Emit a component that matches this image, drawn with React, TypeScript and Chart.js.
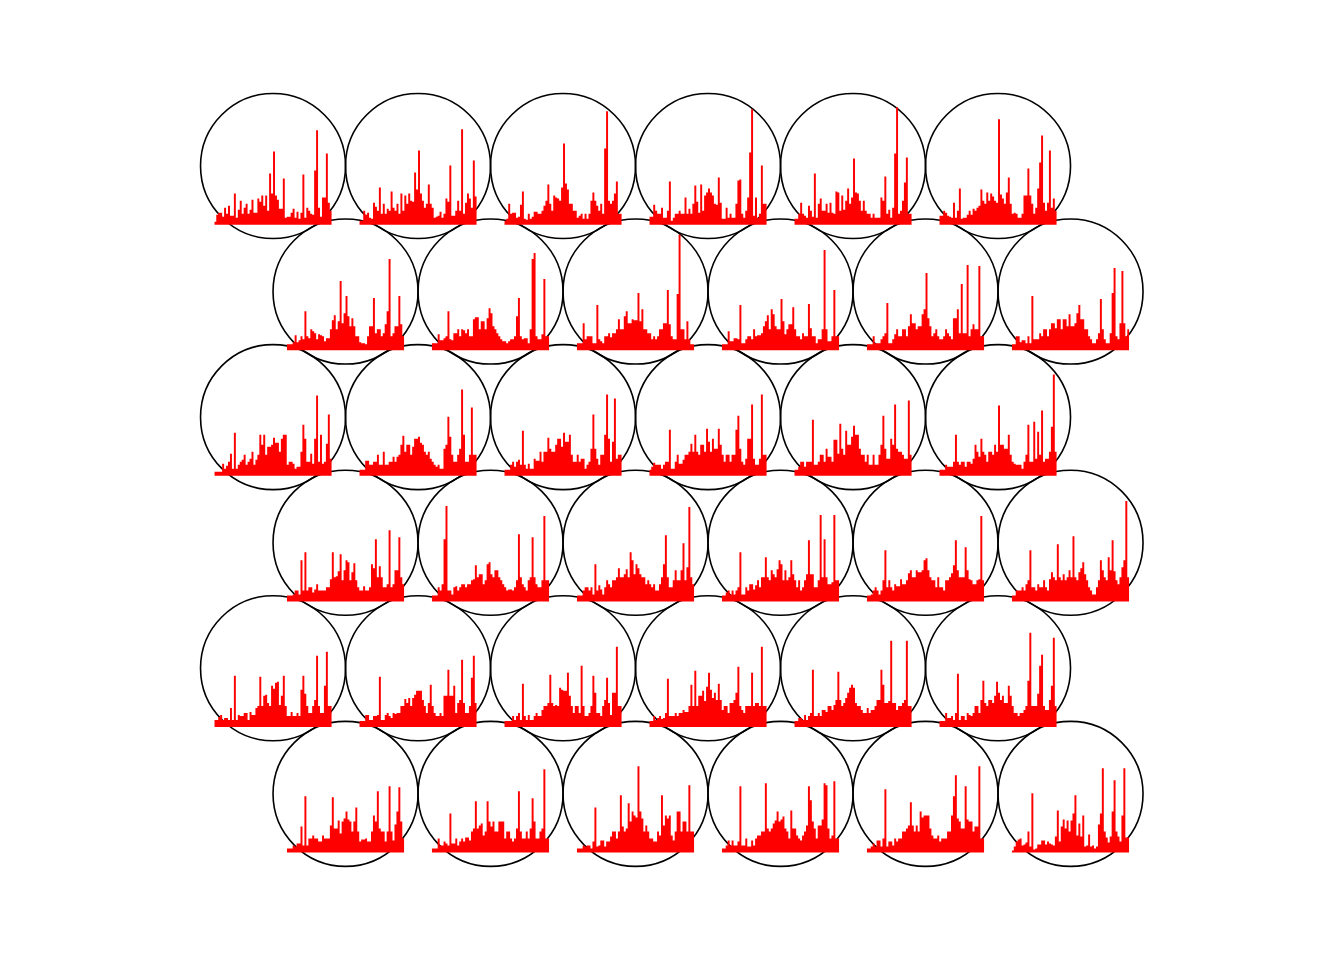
import { useEffect, useRef } from 'react';
import { Chart, registerables } from 'chart.js';

Chart.register(...registerables);

// codebook vectors of the 6x6 hexagonal map, 60 variables per unit,
// one array per map row (top row first), values on a 0..117 scale
const row1: number[][] = [
  [3, 10, 12, 12, 8, 17, 11, 19, 9, 9, 31, 7, 15, 24, 11, 17, 21, 11, 15, 25, 12, 12, 26, 23, 29, 19, 29, 14, 51, 31, 73, 29, 25, 16, 16, 46, 7, 8, 8, 12, 16, 7, 13, 6, 12, 50, 7, 17, 14, 11, 10, 54, 94, 17, 8, 27, 27, 71, 22, 14],
  [4, 4, 14, 10, 12, 7, 6, 22, 18, 14, 37, 11, 21, 11, 16, 14, 33, 17, 14, 21, 11, 31, 14, 29, 21, 31, 24, 23, 52, 35, 74, 31, 24, 17, 21, 40, 21, 17, 7, 8, 9, 13, 7, 11, 26, 23, 59, 9, 9, 14, 24, 14, 95, 11, 22, 31, 26, 17, 64, 28],
  [4, 6, 21, 11, 12, 12, 7, 8, 20, 33, 6, 5, 11, 6, 8, 13, 13, 11, 11, 14, 19, 24, 40, 21, 14, 29, 27, 26, 24, 37, 81, 41, 35, 21, 21, 14, 14, 7, 9, 11, 6, 11, 6, 11, 24, 32, 24, 19, 14, 21, 11, 76, 113, 24, 21, 24, 31, 43, 11, 11],
  [8, 8, 20, 14, 11, 11, 17, 7, 7, 14, 43, 4, 7, 11, 11, 14, 11, 11, 27, 11, 16, 11, 21, 39, 23, 12, 40, 14, 29, 32, 36, 32, 29, 21, 20, 47, 22, 6, 6, 17, 7, 11, 7, 7, 21, 44, 45, 11, 7, 14, 27, 72, 115, 9, 27, 7, 11, 59, 21, 21],
  [6, 6, 11, 22, 11, 9, 7, 19, 14, 8, 51, 7, 21, 26, 14, 14, 21, 12, 22, 12, 11, 33, 32, 14, 29, 15, 24, 36, 21, 27, 66, 32, 31, 24, 14, 24, 14, 11, 11, 7, 11, 7, 7, 7, 27, 24, 48, 11, 15, 7, 17, 71, 117, 11, 14, 24, 42, 67, 11, 11],
  [9, 9, 14, 12, 9, 8, 7, 22, 7, 14, 36, 6, 7, 7, 10, 14, 10, 16, 14, 17, 19, 35, 24, 21, 32, 24, 31, 28, 24, 22, 105, 30, 26, 21, 32, 47, 21, 11, 12, 11, 7, 7, 11, 29, 29, 56, 29, 21, 11, 17, 36, 62, 89, 22, 14, 22, 74, 17, 26, 14],
];

const row2: number[][] = [
  [6, 6, 6, 8, 15, 8, 10, 14, 11, 39, 14, 12, 21, 19, 17, 11, 16, 15, 14, 9, 12, 12, 21, 30, 35, 21, 29, 69, 27, 37, 54, 34, 24, 32, 24, 14, 14, 8, 7, 7, 6, 14, 24, 24, 52, 17, 21, 21, 14, 17, 26, 39, 91, 14, 17, 24, 24, 54, 26, 14],
  [7, 7, 7, 16, 10, 10, 12, 14, 39, 11, 10, 17, 17, 21, 14, 21, 20, 17, 21, 14, 14, 31, 33, 33, 21, 29, 29, 21, 32, 42, 37, 24, 21, 17, 14, 11, 9, 9, 7, 9, 11, 11, 14, 34, 52, 14, 11, 12, 12, 7, 21, 91, 97, 14, 11, 11, 16, 71, 14, 14],
  [7, 7, 7, 27, 11, 14, 14, 14, 7, 7, 45, 11, 9, 7, 14, 14, 17, 13, 17, 17, 21, 31, 21, 21, 34, 39, 27, 27, 31, 30, 30, 57, 29, 41, 21, 21, 17, 17, 11, 14, 11, 14, 21, 21, 27, 27, 60, 26, 14, 11, 11, 56, 115, 21, 21, 11, 29, 11, 6, 6],
  [6, 6, 6, 19, 9, 9, 12, 12, 11, 45, 7, 7, 11, 14, 14, 11, 21, 14, 15, 15, 17, 24, 29, 35, 21, 41, 36, 24, 21, 21, 51, 29, 16, 21, 26, 26, 43, 21, 14, 14, 11, 17, 14, 14, 46, 22, 14, 14, 7, 11, 11, 21, 100, 21, 9, 9, 14, 60, 14, 14],
  [6, 6, 6, 14, 7, 7, 7, 11, 14, 17, 47, 7, 7, 11, 16, 21, 14, 14, 21, 21, 14, 24, 36, 27, 27, 21, 24, 24, 36, 41, 77, 32, 24, 14, 17, 21, 14, 11, 11, 14, 21, 17, 14, 11, 32, 32, 41, 17, 66, 17, 17, 85, 14, 21, 26, 21, 21, 84, 14, 14],
  [6, 6, 14, 14, 8, 10, 10, 7, 14, 7, 54, 11, 11, 11, 17, 14, 21, 21, 14, 21, 27, 27, 22, 31, 31, 21, 31, 31, 24, 36, 24, 24, 27, 37, 45, 31, 31, 21, 21, 14, 11, 7, 7, 11, 17, 51, 21, 11, 7, 7, 17, 57, 82, 14, 11, 27, 79, 27, 14, 21],
];

const row3: number[][] = [
  [4, 4, 4, 4, 12, 7, 10, 14, 22, 7, 43, 7, 11, 14, 16, 21, 11, 14, 17, 24, 11, 16, 21, 41, 31, 41, 21, 29, 29, 31, 38, 33, 33, 24, 37, 41, 41, 11, 14, 14, 12, 7, 9, 9, 24, 51, 37, 14, 14, 22, 12, 37, 80, 14, 41, 12, 14, 32, 61, 17],
  [6, 6, 6, 15, 15, 11, 11, 14, 14, 21, 11, 11, 24, 11, 11, 14, 14, 19, 14, 19, 21, 31, 40, 24, 31, 31, 21, 29, 37, 37, 39, 33, 31, 24, 21, 24, 17, 14, 11, 9, 11, 7, 7, 27, 31, 59, 39, 21, 14, 14, 21, 27, 86, 41, 14, 14, 21, 68, 21, 21],
  [6, 6, 6, 11, 14, 9, 14, 16, 11, 45, 11, 7, 12, 7, 7, 17, 15, 15, 24, 14, 24, 24, 38, 27, 24, 24, 31, 37, 37, 29, 43, 34, 34, 41, 21, 14, 14, 21, 14, 17, 17, 7, 11, 14, 27, 61, 27, 17, 11, 21, 21, 41, 81, 37, 14, 34, 77, 17, 21, 21],
  [6, 9, 13, 11, 11, 11, 7, 11, 14, 14, 46, 7, 7, 14, 21, 12, 12, 16, 21, 21, 24, 32, 24, 41, 24, 21, 31, 31, 24, 47, 34, 24, 37, 27, 27, 47, 31, 21, 14, 21, 21, 14, 21, 21, 46, 60, 27, 14, 11, 17, 37, 37, 71, 17, 11, 11, 17, 81, 21, 21],
  [6, 6, 9, 14, 14, 9, 14, 14, 14, 56, 11, 11, 14, 21, 21, 14, 27, 19, 19, 14, 36, 36, 22, 52, 27, 21, 45, 31, 31, 39, 50, 41, 41, 27, 21, 21, 14, 21, 11, 11, 21, 11, 11, 21, 31, 60, 27, 17, 17, 37, 31, 71, 27, 24, 24, 21, 17, 17, 75, 21],
  [6, 6, 6, 11, 9, 9, 9, 14, 41, 14, 11, 14, 14, 9, 14, 14, 12, 17, 31, 24, 19, 37, 24, 21, 14, 24, 24, 21, 31, 24, 70, 31, 31, 27, 27, 41, 21, 14, 12, 11, 11, 11, 7, 14, 21, 51, 14, 14, 54, 17, 44, 21, 65, 14, 17, 17, 24, 49, 101, 24],
];

const row4: number[][] = [
  [6, 6, 6, 7, 11, 11, 7, 41, 11, 49, 11, 14, 14, 9, 12, 17, 11, 11, 11, 11, 14, 14, 22, 49, 24, 25, 30, 47, 21, 31, 41, 39, 21, 29, 38, 21, 14, 11, 11, 15, 11, 11, 14, 37, 33, 62, 24, 35, 24, 14, 14, 17, 71, 14, 17, 31, 31, 64, 24, 17],
  [6, 6, 6, 14, 11, 17, 62, 95, 11, 11, 7, 14, 15, 11, 14, 17, 17, 14, 17, 17, 21, 22, 36, 24, 27, 27, 17, 21, 37, 39, 27, 24, 31, 31, 24, 21, 17, 14, 11, 12, 12, 11, 14, 21, 67, 24, 17, 14, 11, 21, 24, 64, 24, 17, 14, 14, 21, 85, 21, 21],
  [6, 6, 6, 11, 14, 14, 11, 14, 7, 37, 11, 16, 12, 7, 14, 21, 17, 14, 21, 21, 24, 33, 24, 24, 27, 32, 24, 49, 41, 27, 37, 33, 27, 24, 24, 17, 21, 17, 14, 17, 11, 11, 17, 24, 37, 66, 24, 14, 14, 21, 31, 21, 21, 31, 58, 21, 34, 94, 24, 17],
  [6, 6, 9, 11, 7, 11, 7, 11, 14, 49, 7, 7, 14, 11, 17, 17, 12, 16, 21, 14, 24, 24, 44, 24, 21, 31, 27, 24, 32, 41, 37, 21, 31, 21, 24, 41, 27, 21, 14, 21, 11, 14, 21, 27, 61, 27, 27, 14, 14, 21, 86, 24, 62, 24, 17, 17, 19, 86, 21, 21],
  [6, 6, 7, 11, 14, 11, 7, 11, 21, 51, 14, 21, 14, 11, 17, 15, 15, 22, 17, 17, 21, 28, 31, 24, 24, 31, 29, 29, 31, 41, 43, 31, 24, 21, 21, 14, 24, 14, 14, 11, 21, 21, 24, 28, 36, 61, 31, 24, 24, 24, 54, 31, 22, 21, 17, 17, 21, 22, 85, 21],
  [6, 6, 11, 11, 11, 14, 11, 17, 21, 51, 14, 14, 11, 17, 14, 14, 21, 14, 11, 22, 29, 24, 21, 57, 24, 21, 27, 21, 24, 31, 24, 65, 24, 21, 29, 33, 39, 27, 21, 14, 11, 7, 7, 14, 21, 41, 31, 24, 21, 44, 31, 61, 30, 21, 17, 24, 34, 41, 100, 24],
];

const row5: number[][] = [
  [7, 7, 10, 12, 7, 9, 9, 7, 19, 7, 51, 7, 12, 11, 11, 14, 14, 7, 15, 12, 12, 19, 21, 50, 21, 31, 32, 24, 21, 41, 38, 44, 45, 22, 31, 51, 21, 11, 11, 15, 11, 11, 14, 11, 37, 51, 33, 21, 14, 14, 21, 27, 71, 21, 14, 14, 41, 75, 21, 21],
  [6, 6, 6, 12, 12, 7, 7, 11, 11, 12, 50, 7, 7, 12, 14, 11, 9, 14, 13, 14, 14, 21, 21, 28, 24, 29, 21, 29, 32, 36, 36, 36, 27, 21, 14, 24, 42, 21, 14, 11, 11, 14, 11, 31, 31, 57, 31, 31, 41, 14, 24, 27, 67, 24, 14, 14, 21, 49, 71, 24],
  [6, 6, 6, 6, 11, 7, 11, 14, 7, 43, 11, 7, 12, 7, 7, 11, 14, 11, 11, 17, 21, 21, 24, 52, 24, 21, 22, 21, 39, 37, 36, 36, 54, 31, 21, 14, 21, 21, 14, 61, 21, 11, 11, 14, 21, 51, 34, 14, 14, 11, 21, 27, 49, 24, 12, 34, 34, 80, 21, 21],
  [6, 6, 11, 7, 9, 11, 8, 9, 14, 48, 11, 11, 11, 14, 11, 14, 14, 17, 15, 15, 21, 42, 21, 56, 21, 31, 31, 36, 26, 40, 54, 37, 29, 34, 27, 43, 27, 17, 21, 21, 14, 24, 24, 27, 34, 60, 21, 17, 14, 21, 21, 21, 54, 21, 24, 24, 21, 80, 21, 21],
  [6, 6, 9, 9, 7, 12, 7, 11, 14, 57, 11, 11, 14, 11, 17, 17, 15, 21, 21, 17, 22, 27, 55, 27, 21, 24, 29, 34, 39, 42, 39, 24, 21, 21, 17, 14, 14, 19, 14, 17, 17, 21, 27, 27, 57, 42, 24, 24, 26, 86, 24, 24, 17, 21, 21, 24, 27, 86, 21, 21],
  [6, 6, 6, 14, 9, 9, 11, 7, 14, 53, 7, 11, 11, 7, 14, 12, 11, 14, 21, 21, 14, 27, 46, 24, 21, 27, 27, 24, 31, 45, 34, 27, 31, 24, 24, 41, 31, 21, 14, 14, 11, 14, 14, 17, 21, 46, 94, 21, 21, 21, 33, 61, 72, 21, 17, 17, 27, 41, 89, 21],
];

const row6: number[][] = [
  [4, 4, 4, 7, 6, 9, 9, 26, 7, 56, 7, 14, 14, 17, 14, 14, 11, 11, 17, 14, 14, 14, 27, 55, 24, 24, 32, 19, 31, 34, 41, 33, 31, 21, 31, 45, 21, 11, 13, 13, 14, 11, 11, 21, 37, 31, 61, 24, 21, 21, 11, 21, 66, 21, 12, 28, 41, 65, 31, 14],
  [4, 4, 4, 14, 7, 7, 11, 9, 7, 39, 9, 9, 14, 7, 11, 14, 11, 15, 15, 12, 21, 24, 51, 24, 27, 29, 17, 21, 51, 31, 26, 31, 21, 21, 31, 31, 31, 14, 21, 21, 14, 11, 14, 24, 61, 21, 14, 14, 21, 14, 24, 54, 31, 14, 14, 21, 24, 83, 14, 14],
  [4, 4, 4, 7, 6, 7, 7, 4, 11, 45, 6, 7, 12, 12, 6, 11, 11, 16, 21, 21, 14, 21, 57, 26, 21, 24, 49, 31, 41, 37, 35, 86, 41, 34, 21, 27, 21, 14, 14, 11, 11, 21, 17, 57, 27, 37, 34, 37, 17, 12, 21, 41, 41, 21, 31, 31, 21, 67, 21, 21],
  [4, 4, 7, 12, 7, 12, 7, 7, 11, 66, 7, 7, 14, 6, 6, 12, 7, 14, 17, 17, 21, 21, 69, 24, 21, 24, 29, 32, 41, 31, 33, 36, 24, 21, 14, 42, 24, 24, 17, 14, 12, 17, 21, 27, 66, 52, 31, 24, 14, 27, 27, 33, 69, 67, 24, 14, 17, 71, 14, 14],
  [4, 4, 6, 9, 6, 12, 12, 6, 14, 63, 6, 11, 11, 7, 14, 11, 14, 14, 21, 21, 24, 27, 50, 27, 21, 27, 21, 41, 35, 37, 37, 37, 24, 17, 14, 14, 17, 11, 14, 14, 14, 21, 21, 37, 56, 77, 34, 31, 24, 24, 66, 33, 31, 31, 21, 26, 26, 86, 14, 14],
  [2, 6, 11, 13, 14, 7, 8, 10, 21, 6, 59, 3, 4, 8, 8, 12, 12, 8, 11, 9, 8, 7, 16, 42, 11, 26, 33, 24, 32, 21, 32, 39, 57, 17, 29, 16, 37, 6, 7, 18, 6, 7, 4, 6, 28, 39, 84, 21, 15, 10, 16, 41, 72, 21, 16, 11, 37, 84, 15, 15],
];

const codeRows = [row1, row2, row3, row4, row5, row6];

const CODE_MAX = 117;
const BOX = 0.405; // half size of the code box inside a unit (unit spacing = 1)
const ROW_STEP = Math.sqrt(3) / 2;

// map window in unit spacings (145 px per spacing)
const X_MIN = -0.883;
const X_MAX = 8.386;
const Y_MIN = -1.146;
const Y_MAX = 5.475;

function unitCentre(row: number, col: number) {
  return {
    x: col + 1 + (row % 2 === 1 ? 0.5 : 0),
    y: (codeRows.length - 1 - row) * ROW_STEP,
  };
}

const unitCircles = {
  id: 'unitCircles',
  beforeDatasetsDraw(chart: Chart) {
    const { ctx } = chart;
    const xs = chart.scales.x;
    const ys = chart.scales.y;
    ctx.save();
    ctx.strokeStyle = '#000000';
    ctx.lineWidth = 1.6;
    codeRows.forEach((units, r) => {
      units.forEach((_, c) => {
        const ctr = unitCentre(r, c);
        const px = xs.getPixelForValue(ctr.x);
        const py = ys.getPixelForValue(ctr.y);
        const rad = xs.getPixelForValue(ctr.x + 0.5) - px;
        ctx.beginPath();
        ctx.arc(px, py, rad, 0, Math.PI * 2);
        ctx.stroke();
      });
    });
    ctx.restore();
  },
};

export default function App() {
  const chartRef = useRef<HTMLCanvasElement>(null);
  const chartInstance = useRef<Chart | null>(null);

  useEffect(() => {
    if (!chartRef.current) return;
    if (chartInstance.current) chartInstance.current.destroy();

    const datasets = codeRows.flatMap((units, r) =>
      units.map((codes, c) => {
        const ctr = unitCentre(r, c);
        const left = ctr.x - BOX;
        const bottom = ctr.y - BOX;
        const step = (2 * BOX) / codes.length;
        const pts = codes.map((v, i) => ({
          x: left + i * step,
          y: bottom + (v / CODE_MAX) * 2 * BOX,
        }));
        pts.push({ x: left + 2 * BOX, y: pts[pts.length - 1].y });
        return {
          data: pts,
          stepped: 'before' as const,
          fill: { value: bottom },
          backgroundColor: '#ff0000',
          borderColor: 'rgba(0,0,0,0)',
          borderWidth: 0,
          pointRadius: 0,
          tension: 0,
        };
      })
    );

    chartInstance.current = new Chart(chartRef.current, {
      type: 'line',
      data: { datasets },
      options: {
        animation: false,
        responsive: false,
        maintainAspectRatio: false,
        events: [],
        layout: { padding: 0 },
        plugins: {
          legend: { display: false },
          tooltip: { enabled: false },
        },
        scales: {
          x: { type: 'linear', min: X_MIN, max: X_MAX, display: false },
          y: { type: 'linear', min: Y_MIN, max: Y_MAX, display: false },
        },
      },
      plugins: [unitCircles],
    });

    return () => {
      if (chartInstance.current) {
        chartInstance.current.destroy();
        chartInstance.current = null;
      }
    };
  }, []);

  return (
    <div style={{ position: 'absolute', left: 0, top: 0, width: 1344, height: 960, background: '#ffffff' }}>
      <canvas ref={chartRef} width={1344} height={960}></canvas>
    </div>
  );
}
